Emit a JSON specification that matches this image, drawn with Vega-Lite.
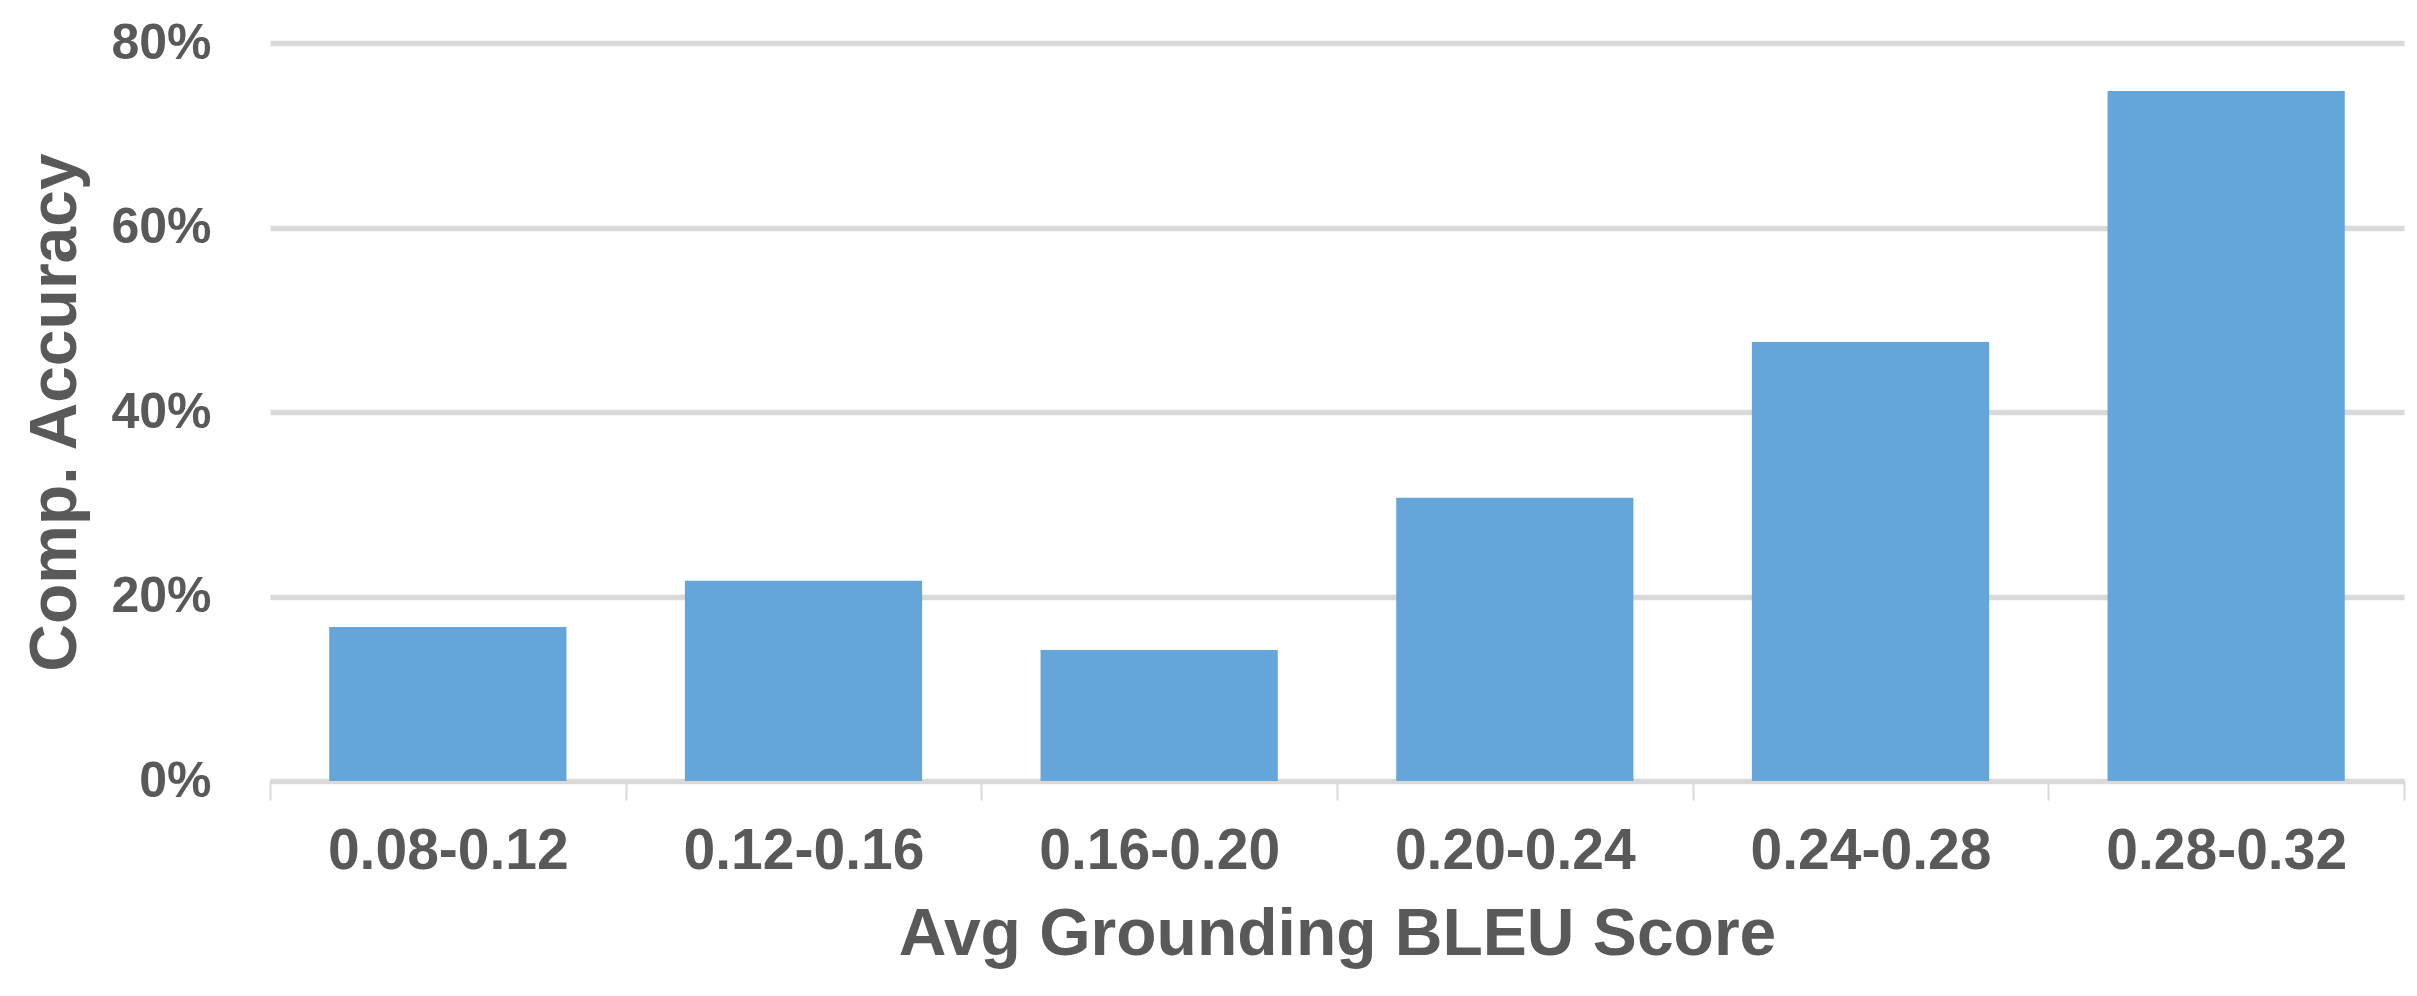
{
  "$schema": "https://vega.github.io/schema/vega-lite/v6.json",
  "autosize": {"type": "none"},
  "width": 2134,
  "height": 738,
  "padding": {"left": 270, "top": 43, "right": 13, "bottom": 215},
  "background": "white",
  "config": {
    "view": {"stroke": null},
    "font": "Liberation Sans"
  },
  "data": {
    "values": [
      {"range": "0.08-0.12", "accuracy": 0.167},
      {"range": "0.12-0.16", "accuracy": 0.217},
      {"range": "0.16-0.20", "accuracy": 0.142},
      {"range": "0.20-0.24", "accuracy": 0.307},
      {"range": "0.24-0.28", "accuracy": 0.476},
      {"range": "0.28-0.32", "accuracy": 0.748}
    ]
  },
  "mark": {"type": "bar", "color": "#64a5da", "width": {"band": 0.667}},
  "encoding": {
    "x": {
      "field": "range",
      "type": "nominal",
      "sort": null,
      "scale": {"paddingInner": 0, "paddingOuter": 0},
      "axis": {
        "title": "Avg Grounding BLEU Score",
        "labelAngle": 0,
        "labelLimit": 0,
        "labelFont": "Liberation Sans",
        "labelFontWeight": "bold",
        "labelFontSize": 57,
        "labelColor": "#595959",
        "labelPadding": 23,
        "tickBand": "extent",
        "tickSize": 19,
        "tickWidth": 2,
        "tickColor": "#d9d9d9",
        "domainColor": "#d9d9d9",
        "domainWidth": 3,
        "titleFont": "Liberation Sans",
        "titleFontWeight": "bold",
        "titleFontSize": 66,
        "titleColor": "#595959",
        "titleBaseline": "alphabetic",
        "titleY": 173
      }
    },
    "y": {
      "field": "accuracy",
      "type": "quantitative",
      "scale": {"domain": [0, 0.8], "nice": false},
      "axis": {
        "title": "Comp. Accuracy",
        "values": [0, 0.2, 0.4, 0.6, 0.8],
        "format": ".0%",
        "domain": false,
        "ticks": false,
        "grid": true,
        "gridColor": "#d9d9d9",
        "gridWidth": 5.5,
        "labelFont": "Liberation Sans",
        "labelFontWeight": "bold",
        "labelFontSize": 50,
        "labelColor": "#595959",
        "labelPadding": 59,
        "titleFont": "Liberation Sans",
        "titleFontWeight": "bold",
        "titleFontSize": 66,
        "titleColor": "#595959",
        "titleBaseline": "alphabetic",
        "titleX": -195
      }
    }
  }
}
